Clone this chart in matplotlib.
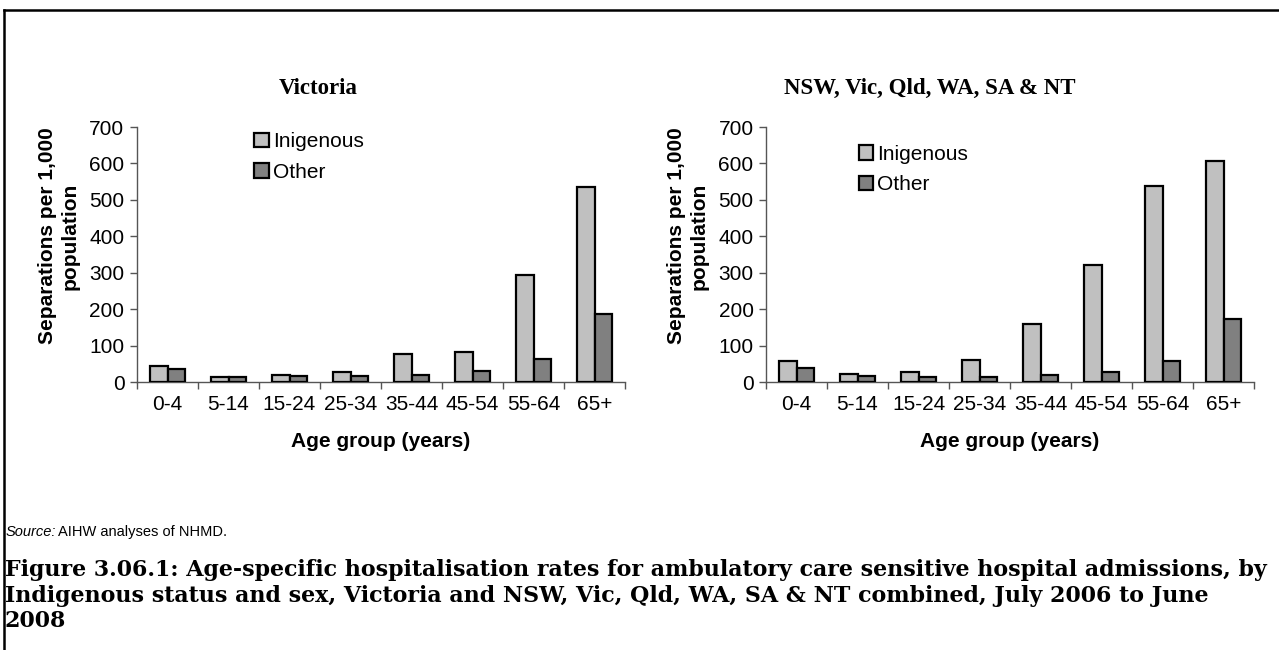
import matplotlib
matplotlib.use("Agg")
import matplotlib.pyplot as plt
import numpy as np

# Dados (separações por 1.000 habitantes)
faixas = ["0-4", "5-14", "15-24", "25-34", "35-44", "45-54", "55-64", "65+"]
vic_indigena = [43, 15, 18, 28, 77, 81, 293, 535]
vic_outros = [35, 15, 16, 17, 20, 29, 62, 187]
todos_indigena = [59, 22, 27, 61, 158, 320, 539, 607]
todos_outros = [39, 17, 15, 15, 18, 28, 59, 174]

titulos = ["Victoria", "NSW, Vic, Qld, WA, SA & NT"]
rotulos_serie = ["Inigenous", "Other"]
legenda_fig = ("Figure 3.06.1: Age-specific hospitalisation rates for ambulatory care sensitive hospital admissions, by\n"
               "Indigenous status and sex, Victoria and NSW, Vic, Qld, WA, SA & NT combined, July 2006 to June\n"
               "2008")

COR_CLARA = "#c0c0c0"
COR_ESCURA = "#808080"
SANS = "Liberation Sans"
SERIF = "Liberation Serif"

W, H = 1279, 650
fig = plt.figure(figsize=(W / 100, H / 100), dpi=100)


def px(x0, y0, w, h):
    # converte retângulo em pixels (origem no topo) para coordenadas da figura
    return [x0 / W, 1 - (y0 + h) / H, w / W, h / H]


def desenhar(ax, ind, outros, pos_leg, x_rotulo):
    x = np.arange(len(faixas))
    larg = 0.29
    ax.bar(x - larg / 2, ind, larg, color=COR_CLARA, edgecolor="black", linewidth=1.6,
           label=rotulos_serie[0], zorder=3)
    ax.bar(x + larg / 2, outros, larg, color=COR_ESCURA, edgecolor="black", linewidth=1.6,
           label=rotulos_serie[1], zorder=3)
    ax.set_xlim(-0.5, len(faixas) - 0.5)
    ax.set_ylim(0, 700)
    ax.set_yticks(range(0, 701, 100))
    # ticks nas divisões, rótulos no centro
    ax.set_xticks(np.arange(len(faixas) + 1) - 0.5)
    ax.set_xticklabels([])
    ax.set_xticks(x, minor=True)
    ax.set_xticklabels(faixas, minor=True, fontsize=15, fontfamily=SANS)
    ax.tick_params(axis="x", which="minor", length=0, pad=9)
    ax.tick_params(axis="x", which="major", length=5, width=1, color="#555555")
    ax.tick_params(axis="y", length=5, width=1, color="#555555", labelsize=15, pad=4)
    for t in ax.get_yticklabels():
        t.set_fontfamily(SANS)
    for lado in ["top", "right"]:
        ax.spines[lado].set_visible(False)
    for lado in ["left", "bottom"]:
        ax.spines[lado].set_color("#555555")
        ax.spines[lado].set_linewidth(1)
    ax.set_xlabel("Age group (years)", fontsize=15, fontweight="bold", fontfamily=SANS, labelpad=13)
    fig.text(x_rotulo / W, 1 - 236 / H, "Separations per 1,000\npopulation", rotation=90,
             ha="center", va="center", multialignment="center", fontsize=15,
             fontweight="bold", fontfamily=SANS, linespacing=1.25)
    ax.legend(loc="upper left", bbox_to_anchor=pos_leg, frameon=False,
              prop={"family": SANS, "size": 15}, handlelength=0.7, handleheight=0.7,
              handletextpad=0.2, labelspacing=0.55, borderpad=0, borderaxespad=0)


ax1 = fig.add_axes(px(137, 127, 488, 255))
desenhar(ax1, vic_indigena, vic_outros, (0.24, 0.98), 58.5)
ax2 = fig.add_axes(px(766, 127, 488, 255))
desenhar(ax2, todos_indigena, todos_outros, (0.19, 0.93), 687.5)

fig.text(318 / W, 1 - 88 / H, titulos[0], ha="center", va="center", fontsize=16.5,
         fontweight="bold", fontfamily=SERIF)
fig.text(930 / W, 1 - 88 / H, titulos[1], ha="center", va="center", fontsize=16.5,
         fontweight="bold", fontfamily=SERIF)

# fonte
fig.text(6 / W, 1 - 532 / H, "Source:", ha="left", va="center", fontsize=10.5,
         fontstyle="italic", fontfamily=SANS)
fig.text(58 / W, 1 - 532 / H, "AIHW analyses of NHMD.", ha="left", va="center",
         fontsize=10.5, fontfamily=SANS)

fig.text(5 / W, 1 - 559 / H, legenda_fig, ha="left", va="top", fontsize=15.9,
         fontweight="bold", fontfamily="DejaVu Serif", linespacing=1.22)

# moldura (linha superior e esquerda)
fig.add_artist(plt.Line2D([4 / W, 4 / W], [0, 1 - 10 / H], color="black", lw=1.8,
                          transform=fig.transFigure))
fig.add_artist(plt.Line2D([4 / W, 1], [1 - 10 / H, 1 - 10 / H], color="black", lw=1.8,
                          transform=fig.transFigure))

fig.savefig("out.png", dpi=100)
